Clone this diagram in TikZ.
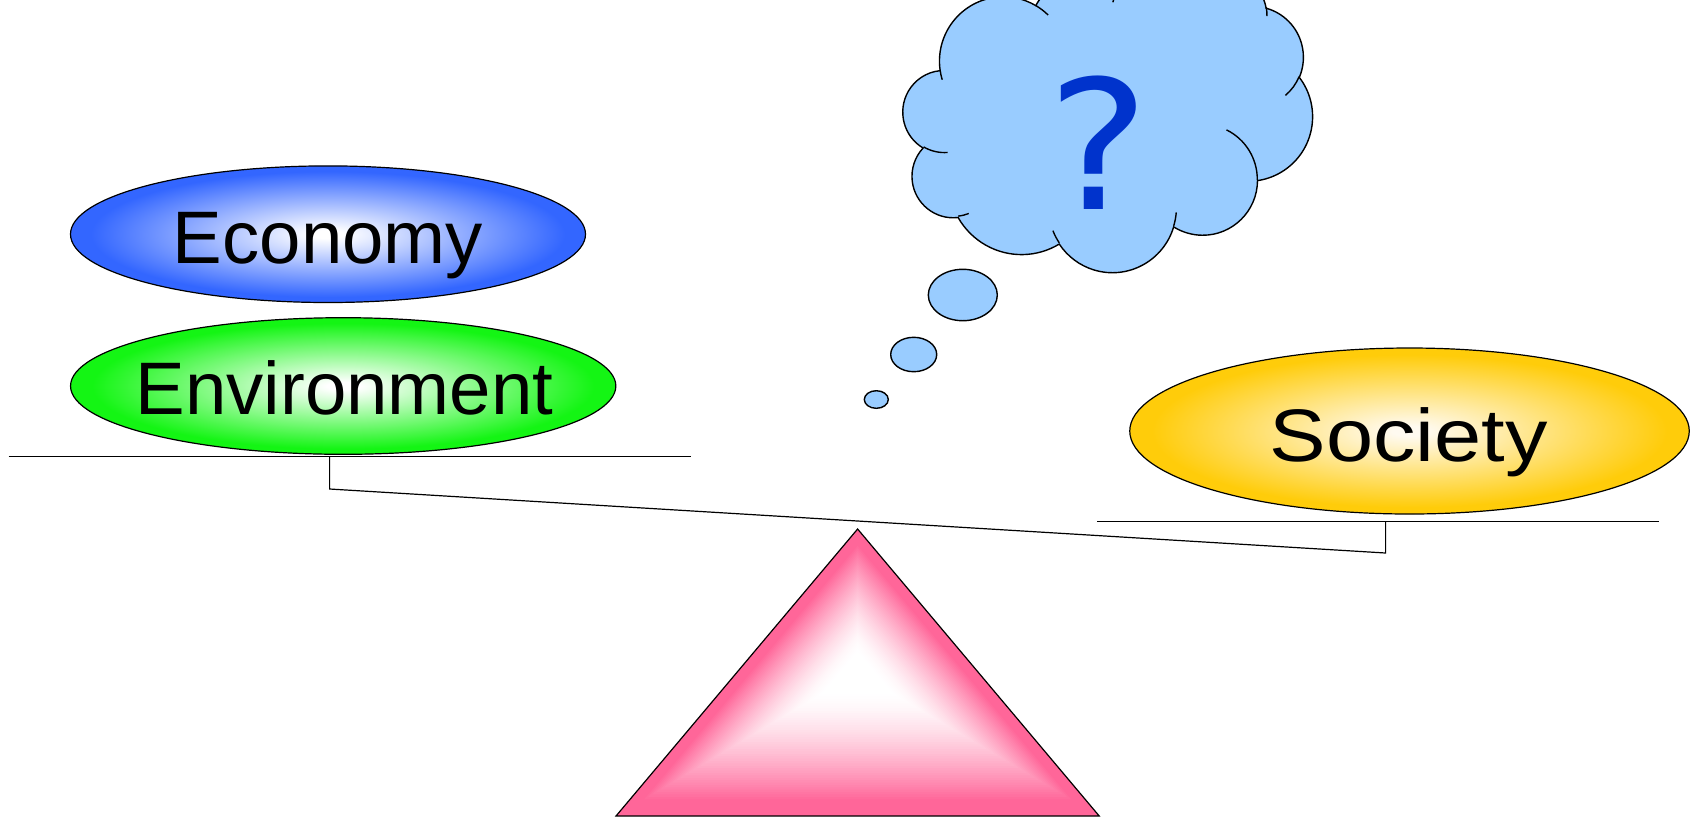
\documentclass[tikz,border=0pt]{standalone}
\usepackage{fontspec}
\setmainfont{Liberation Sans}
\newfontfamily\qfont{DejaVu Sans}
\usetikzlibrary{shapes.geometric}
\definecolor{ecoblue}{RGB}{51,102,255}
\definecolor{envgreen}{RGB}{20,245,20}
\definecolor{socgold}{RGB}{255,204,10}
\definecolor{soccream}{RGB}{255,250,240}
\definecolor{fulcpink}{RGB}{255,102,153}
\definecolor{cloudblue}{RGB}{153,204,255}
\definecolor{qblue}{RGB}{0,51,204}
\pgfdeclareradialshading{ecoshade}{\pgfpoint{0bp}{0bp}}{color(0bp)=(white); color(1.5bp)=(white); color(23bp)=(ecoblue); color(50bp)=(ecoblue)}
\pgfdeclareradialshading{envshade}{\pgfpoint{0bp}{0bp}}{color(0bp)=(white); color(1.5bp)=(white); color(23bp)=(envgreen); color(50bp)=(envgreen)}
\pgfdeclareradialshading{socshade}{\pgfpoint{0bp}{0bp}}{color(0bp)=(soccream); color(1.5bp)=(soccream); color(23bp)=(socgold); color(50bp)=(socgold)}
\tikzset{
  oval/.style={ellipse, draw=black, line width=0.6pt, inner sep=0pt, outer sep=0pt},
  lbl/.style={inner sep=0pt, outer sep=0pt, font=\fontsize{37.2pt}{44pt}\selectfont, anchor=base},
  beamline/.style={draw=black, line width=0.6pt},
  cloudline/.style={fill=cloudblue, draw=black, line width=0.7pt},
  hookline/.style={draw=black, line width=0.7pt},
  bubble/.style={ellipse, fill=cloudblue, draw=black, line width=0.7pt, inner sep=0pt, outer sep=0pt},
}
\begin{document}
\begin{tikzpicture}[x=0.5pt, y=-0.5pt]
\useasboundingbox (0,0) rectangle (1700,820);
\clip (0,0) rectangle (1700,820);

% fulcrum
\coordinate (apex) at (857.6,529);
\coordinate (bl) at (616,816);
\coordinate (br) at (1099.2,816);
\foreach \i in {0,...,59}{
  \pgfmathsetmacro{\s}{1-\i/60}
  \pgfmathsetmacro{\xx}{max(0,min(1,(\s-0.15)/0.75))}
  \pgfmathsetmacro{\f}{100*\xx*sqrt(\xx)}
  \fill[fulcpink!\f!white, shift={(857.6,672.5)}, scale=\s] (0,-143.5) -- (-241.6,143.5) -- (241.6,143.5) -- cycle;
}
\draw[line width=0.6pt, line join=miter] (apex) -- (bl) -- (br) -- cycle;

% beam
\coordinate (lpL) at (8.7,456.5);
\coordinate (lpR) at (690.6,456.5);
\coordinate (lpM) at (329.6,456.5);
\coordinate (lh) at (329.6,489);
\coordinate (rh) at (1385.6,553);
\coordinate (rpM) at (1385.6,521.5);
\coordinate (rpL) at (1097,521.5);
\coordinate (rpR) at (1659,521.5);
\draw[beamline] (lpL) -- (lpR);
\draw[beamline] (rpL) -- (rpR);
\draw[beamline] (lpM) -- (lh) -- (rh) -- (rpM);

% pans' loads
\node[oval, shading=ecoshade, minimum width=257.5pt, minimum height=68.3pt] (eco) at (328,234.2) {};
\node[lbl] (ecoT) at (328,263.3) {Economy};
\node[oval, shading=envshade, minimum width=272.65pt, minimum height=68.3pt] (env) at (343.2,386) {};
\node[lbl] (envT) at (344.5,414) {Environment};
\node[oval, shading=socshade, minimum width=279.75pt, minimum height=83pt] (soc) at (1409.5,431) {};
\node[lbl] (socT) at (1408.5,461.7) {\scalebox{1.14}[1]{Society}};

% thought bubbles
\node[bubble, minimum width=34.5pt, minimum height=25.7pt] (b1) at (962.8,295) {};
\node[bubble, minimum width=23pt, minimum height=17.2pt] (b2) at (913.7,354.5) {};
\node[bubble, minimum width=12pt, minimum height=8.8pt] (b3) at (876.3,399.5) {};

% cloud
\begin{scope}[shift={(903.1,-30.8)}, x=0.47375pt, y=-0.35pt]
\path[cloudline] (39.00,143.70)
  arc[start angle=172.25, end angle=300.35, x radius=67.53, y radius=91.90]
  arc[start angle=-152.02, end angle=-45.45, x radius=53.33, y radius=72.67]
  arc[start angle=-153.49, end angle=-37.33, x radius=43.65, y radius=59.45]
  arc[start angle=-139.72, end angle=-10.22, x radius=48.57, y radius=65.95]
  arc[start angle=-74.77, end angle=23.21, x radius=53.33, y radius=72.73]
  arc[start angle=-37.53, end angle=81.86, x radius=67.75, y radius=92.20]
  arc[start angle=0.46, end angle=121.98, x radius=57.85, y radius=78.67]
  arc[start angle=16.84, end angle=146.23, x radius=67.52, y radius=92.15]
  arc[start angle=58.98, end angle=150.19, x radius=77.20, y radius=105.43]
  arc[start angle=83.31, end angle=223.11, x radius=43.60, y radius=59.18]
  arc[start angle=120.36, end angle=264.11, x radius=43.45, y radius=59.45]
  -- cycle;
\draw[hookline] (46.93,261.77) arc[start angle=85.54, end angle=120.36, x radius=43.45, y radius=59.45];
\draw[hookline] (69.28,348.99) arc[start angle=68.23, end angle=83.31, x radius=43.60, y radius=59.18];
\draw[hookline] (164.78,390.90) arc[start angle=146.23, end angle=158.47, x radius=67.52, y radius=92.15];
\draw[hookline] (288.27,347.51) arc[start angle=4.735, end angle=16.84, x radius=67.52, y radius=92.15];
\draw[hookline] (341.29,229.54) arc[start angle=-64.03, end angle=0.46, x radius=57.85, y radius=78.67];
\draw[hookline] (417.98,153.54) arc[start angle=23.21, end angle=49.66, x radius=53.33, y radius=72.73];
\draw[hookline] (383.24,54.26) arc[start angle=-10.22, end angle=0.825, x radius=48.57, y radius=65.95];
\draw[hookline] (290.78,39.52) arc[start angle=-156.30, end angle=-139.72, x radius=48.57, y radius=65.95];
\draw[hookline] (221.41,47.20) arc[start angle=-167.73, end angle=-153.49, x radius=43.65, y radius=59.45];
\draw[hookline] (140.00,51.92) arc[start angle=-59.65, end angle=-45.74, x radius=67.53, y radius=91.90];
\draw[hookline] (41.27,157.89) arc[start angle=163.19, end angle=172.25, x radius=67.53, y radius=91.90];
\end{scope}

\node[inner sep=0pt, outer sep=0pt, anchor=base, text=qblue, font=\qfont\fontsize{90pt}{100pt}\selectfont] (q) at (1098.5,209) {\scalebox{1.07}[1]{?}};
\end{tikzpicture}
\end{document}
